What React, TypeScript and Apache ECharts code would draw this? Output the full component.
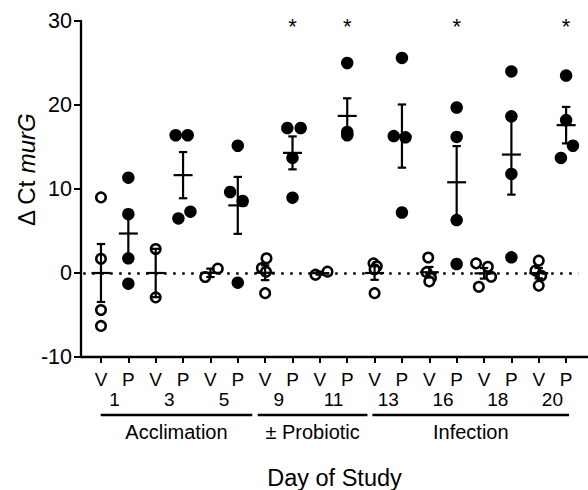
import React, { useEffect, useRef } from 'react';
import * as echarts from 'echarts';

const FONT = '"Liberation Sans", Arial, Helvetica, sans-serif';

const tickLabels = ['V', 'P', 'V', 'P', 'V', 'P', 'V', 'P', 'V', 'P', 'V', 'P', 'V', 'P', 'V', 'P', 'V', 'P'];
const dayLabels = ['1', '3', '5', '9', '11', '13', '16', '18', '20'];

const vehicleValues: number[][] = [
  [9.0, 1.7, -4.4, -6.3],
  [2.86, -2.9],
  [-0.48, 0.52],
  [1.75, 0.6, 0.15, -2.4],
  [-0.2, 0.16],
  [1.15, 0.8, 0.45, -2.4],
  [1.85, 0.1, -0.6, -1.0],
  [1.15, 0.75, -0.44, -1.63],
  [1.47, 0.28, -0.32, -1.5],
];
const vehicleJitter: number[][] = [
  [0, 0, 0, 0],
  [0, 0],
  [-0.19, 0.27],
  [0.05, -0.12, 0.03, 0],
  [-0.16, 0.28],
  [-0.04, 0.08, 0, 0],
  [-0.04, -0.1, 0.06, 0],
  [-0.29, 0.14, 0.26, -0.19],
  [0, -0.12, 0.09, 0],
];
const probioticValues: number[][] = [
  [11.35, 7.0, 1.75, -1.27],
  [16.4, 16.4, 6.5, 7.3],
  [15.15, 9.64, 8.57, -1.15],
  [17.26, 17.26, 13.7, 8.97],
  [25.0, 16.8, 16.5, 16.4],
  [25.6, 16.3, 16.15, 7.2],
  [19.7, 16.2, 6.3, 1.07],
  [24.0, 18.65, 11.8, 1.87],
  [23.5, 18.2, 15.15, 13.7],
];
const probioticJitter: number[][] = [
  [0, 0, 0, 0],
  [-0.27, 0.17, -0.17, 0.27],
  [0, -0.28, 0.18, 0],
  [-0.19, 0.3, 0, 0],
  [0, 0, 0, 0],
  [0, -0.3, 0.13, 0],
  [0, 0, 0, 0],
  [0, 0, 0, 0],
  [0, 0, 0.25, -0.19],
];

const vehicleMean = [0, 0, 0.02, 0.03, -0.02, 0, 0.09, -0.04, -0.02];
const vehicleSem = [3.45, 2.88, 0.5, 0.88, 0.18, 0.81, 0.63, 0.63, 0.62];
const probioticMean = [4.7, 11.65, 8.05, 14.3, 18.7, 16.3, 10.8, 14.1, 17.6];
const probioticSem = [2.8, 2.75, 3.39, 1.96, 2.1, 3.76, 4.31, 4.77, 2.17];

const significantDays = [3, 4, 6, 8];

const phaseNames = ['Acclimation', '± Probiotic', 'Infection'];
const phaseFrom = [-0.01, 5.73, 9.92];
const phaseTo = [5.53, 9.74, 17.11];

export default function App() {
  const ref = useRef<HTMLDivElement>(null);
  useEffect(() => {
    document.body.style.margin = '0';
    const chart = echarts.init(ref.current!, null, { renderer: 'svg' });

    const vehiclePoints = vehicleValues.flatMap((vals, d) =>
      vals.map((v, k) => [2 * d + vehicleJitter[d][k], v])
    );
    const probioticPoints = probioticValues.flatMap((vals, d) =>
      vals.map((v, k) => [2 * d + 1 + probioticJitter[d][k], v])
    );
    const errData = [
      ...vehicleMean.map((m, d) => [2 * d, m, vehicleSem[d]]),
      ...probioticMean.map((m, d) => [2 * d + 1, m, probioticSem[d]]),
    ];
    const starData = significantDays.map((d) => [2 * d + 1, 29.4]);
    const phaseData = phaseNames.map((_, i) => [phaseFrom[i], phaseTo[i], -10]);

    const lineStyle = { stroke: '#000', lineWidth: 2.2, fill: null };

    const option: any = {
      animation: false,
      backgroundColor: '#fff',
      grid: { left: 81, right: 0, top: 21, bottom: 133, containLabel: false, outerBoundsMode: 'none' },
      xAxis: [
        {
          type: 'value',
          min: -0.73,
          max: 17.8,
          splitLine: { show: false },
          axisLine: { show: true, onZero: false, lineStyle: { color: '#000', width: 2.3 } },
          axisTick: { show: true, length: 6, lineStyle: { color: '#000', width: 2 }, customValues: tickLabels.map((_, i) => i) },
          axisLabel: {
            show: true,
            customValues: tickLabels.map((_, i) => i),
            formatter: (v: number) => tickLabels[Math.round(v)] ?? '',
            margin: 12.5,
            fontSize: 19,
            lineHeight: 19,
            fontFamily: FONT,
            color: '#000',
          },
          name: 'Day of Study',
          nameLocation: 'middle',
          nameGap: 109,
          nameTextStyle: { fontSize: 23.5, lineHeight: 23.5, fontFamily: FONT, color: '#000' },
        },
        {
          type: 'value',
          position: 'bottom',
          min: -0.73,
          max: 17.8,
          splitLine: { show: false },
          axisLine: { show: false, onZero: false },
          axisTick: { show: false },
          axisLabel: {
            show: true,
            customValues: dayLabels.map((_, i) => 2 * i + 0.5),
            formatter: (v: number) => dayLabels[Math.round((v - 0.5) / 2)] ?? '',
            margin: 32.5,
            fontSize: 19,
            lineHeight: 19,
            fontFamily: FONT,
            color: '#000',
          },
        },
      ],
      yAxis: {
        type: 'value',
        min: -10,
        max: 30,
        interval: 10,
        splitLine: { show: false },
        axisLine: { show: true, onZero: false, lineStyle: { color: '#000', width: 2.3 } },
        axisTick: { show: true, length: 7, lineStyle: { color: '#000', width: 2 } },
        axisLabel: { margin: 9, fontSize: 21.5, fontFamily: FONT, color: '#000' },
      },
      graphic: [
        {
          type: 'text',
          x: 26,
          y: 170,
          rotation: Math.PI / 2,
          style: {
            text: '{a|Δ Ct }{b|murG}',
            rich: {
              a: { fontSize: 24, fontFamily: FONT, fill: '#000' },
              b: { fontSize: 24, fontFamily: FONT, fontStyle: 'italic', fill: '#000' },
            },
            fill: '#000',
            align: 'center',
            verticalAlign: 'middle',
            textAlign: 'center',
            textVerticalAlign: 'middle',
          },
        },
      ],
      series: [
        {
          type: 'scatter',
          name: 'zero',
          data: [],
          silent: true,
          markLine: {
            silent: true,
            symbol: ['none', 'none'],
            label: { show: false },
            lineStyle: { color: '#000', width: 2.5, type: [2.5, 6.5] },
            data: [[{ coord: [-0.65, 0] }, { coord: [17.45, 0] }]],
          },
          z: 1,
        },
        {
          type: 'scatter',
          name: 'Vehicle',
          data: vehiclePoints,
          symbol: 'circle',
          symbolSize: 9.5,
          itemStyle: { color: '#fff', borderColor: '#000', borderWidth: 2.5, opacity: 1 },
          z: 2,
        },
        {
          type: 'scatter',
          name: 'Probiotic',
          data: probioticPoints,
          symbol: 'circle',
          symbolSize: 12.5,
          itemStyle: { color: '#000', opacity: 1 },
          z: 2,
        },
        {
          type: 'custom',
          name: 'MeanSEM',
          data: errData,
          encode: { x: 0, y: 1 },
          clip: false,
          z: 3,
          renderItem: (params: any, api: any) => {
            const x = api.value(0);
            const m = api.value(1);
            const s = api.value(2);
            const c = api.coord([x, m]);
            const yt = api.coord([x, m + s])[1];
            const yb = api.coord([x, m - s])[1];
            const cx = c[0];
            return {
              type: 'group',
              children: [
                { type: 'line', shape: { x1: cx, y1: yt, x2: cx, y2: yb }, style: lineStyle },
                { type: 'line', shape: { x1: cx - 4.2, y1: yt, x2: cx + 4.2, y2: yt }, style: lineStyle },
                { type: 'line', shape: { x1: cx - 4.2, y1: yb, x2: cx + 4.2, y2: yb }, style: lineStyle },
                { type: 'line', shape: { x1: cx - 9.5, y1: c[1], x2: cx + 9.5, y2: c[1] }, style: lineStyle },
              ],
            };
          },
        },
        {
          type: 'custom',
          name: 'Stars',
          data: starData,
          encode: { x: 0, y: 1 },
          clip: false,
          z: 3,
          renderItem: (params: any, api: any) => {
            const p = api.coord([api.value(0), api.value(1)]);
            return {
              type: 'text',
              x: p[0],
              y: p[1],
              style: {
                text: '*',
                fontSize: 22,
                fontFamily: FONT,
                fill: '#000',
                align: 'center',
                verticalAlign: 'middle',
                textAlign: 'center',
                textVerticalAlign: 'middle',
              },
            };
          },
        },
        {
          type: 'custom',
          name: 'Phases',
          data: phaseData,
          encode: { x: [0, 1], y: 2 },
          clip: false,
          z: 3,
          renderItem: (params: any, api: any) => {
            const x1 = api.coord([api.value(0), 0])[0];
            const x2 = api.coord([api.value(1), 0])[0];
            return {
              type: 'group',
              children: [
                { type: 'line', shape: { x1, y1: 415, x2, y2: 415 }, style: { stroke: '#000', lineWidth: 2.6 } },
                {
                  type: 'text',
                  x: (x1 + x2) / 2,
                  y: 422,
                  style: {
                    text: phaseNames[params.dataIndex],
                    fontSize: 20,
                    fontFamily: FONT,
                    fill: '#000',
                    align: 'center',
                    verticalAlign: 'top',
                    textAlign: 'center',
                    textVerticalAlign: 'top',
                  },
                },
              ],
            };
          },
        },
      ],
    };
    chart.setOption(option);
    return () => chart.dispose();
  }, []);
  return <div ref={ref} style={{ width: 588, height: 490, background: '#fff' }} />;
}
